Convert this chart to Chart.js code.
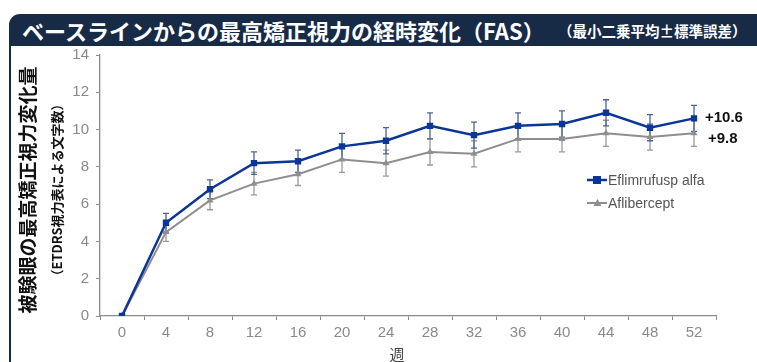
<!DOCTYPE html>
<html>
<head>
<meta charset="utf-8">
<script src="https://cdn.jsdelivr.net/npm/chart.js@4"></script>
<style>
  body { margin: 0; width: 757px; height: 362px; background: #fff; overflow: hidden; position: relative; font-family: "Noto Sans CJK JP", sans-serif; }
  #banner { position: absolute; left: 9px; top: 14px; right: 0; height: 32px; background: #172a46; border-top-left-radius: 11px; color: #fff; white-space: nowrap; }
  #banner .main { position: absolute; left: 13px; top: 0; line-height: 32px; font-size: 22px; font-weight: 700; }
  #banner .sub { position: absolute; left: 549px; top: 1px; line-height: 32px; font-size: 14.5px; font-weight: 700; }
  #edge { position: absolute; left: 9px; top: 46px; width: 2px; height: 316px; background: #172a46; }
  #wrap { position: absolute; left: 11px; top: 39px; width: 746px; height: 323px; }
</style>
</head>
<body>
<div id="banner"><span class="main">ベースラインからの最高矯正視力の経時変化（FAS）</span><span class="sub">（最小二乗平均±標準誤差）</span></div>
<div id="edge"></div>
<div id="wrap"><canvas id="chart"></canvas></div>
<script>
"use strict";

const weeks = ['0', '4', '8', '12', '16', '20', '24', '28', '32', '36', '40', '44', '48', '52'];
const eflimValues = [0, 5.0, 6.8, 8.2, 8.3, 9.1, 9.4, 10.2, 9.7, 10.2, 10.3, 10.9, 10.1, 10.6];
const eflimErrors = [0, 0.5, 0.5, 0.6, 0.6, 0.7, 0.7, 0.7, 0.7, 0.7, 0.7, 0.7, 0.7, 0.7];
const afliValues = [0, 4.5, 6.2, 7.1, 7.6, 8.4, 8.2, 8.8, 8.7, 9.5, 9.5, 9.8, 9.6, 9.8];
const afliErrors = [0, 0.5, 0.5, 0.6, 0.6, 0.7, 0.7, 0.7, 0.7, 0.7, 0.7, 0.7, 0.7, 0.7];
const endLabels = ['+10.6', '+9.8'];
const yTitle = '被験眼の最高矯正視力変化量';
const ySubTitle = '（ETDRS視力表による文字数）';
const xTitle = '週';

const BLUE = '#0b3597';
const GRAY = '#8e8e8e';
const LATIN = '"Liberation Sans", Arial, sans-serif';

const errorBars = {
  id: 'errorBars',
  beforeDatasetsDraw(chart) {
    const ctx = chart.ctx;
    const y = chart.scales.y;
    const sets = [[1, afliErrors, '#9a9a9a'], [0, eflimErrors, '#4b6493']];
    ctx.save();
    ctx.lineWidth = 1.3;
    sets.forEach(([idx, errs, color]) => {
      const meta = chart.getDatasetMeta(idx);
      const vals = chart.data.datasets[idx].data;
      ctx.strokeStyle = color;
      meta.data.forEach((pt, i) => {
        if (!errs[i]) return;
        const top = y.getPixelForValue(vals[i] + errs[i]);
        const bot = y.getPixelForValue(vals[i] - errs[i]);
        ctx.beginPath();
        ctx.moveTo(pt.x, top); ctx.lineTo(pt.x, bot);
        ctx.moveTo(pt.x - 3, top); ctx.lineTo(pt.x + 3, top);
        ctx.moveTo(pt.x - 3, bot); ctx.lineTo(pt.x + 3, bot);
        ctx.stroke();
      });
    });
    ctx.restore();
  }
};

const extras = {
  id: 'extras',
  afterDraw(chart) {
    const ctx = chart.ctx;
    const area = chart.chartArea;
    ctx.save();

    // y axis titles (rotated)
    const midY = 151;
    ctx.fillStyle = '#111';
    ctx.textAlign = 'center';
    ctx.textBaseline = 'middle';
    ctx.save();
    ctx.translate(17, midY);
    ctx.rotate(-Math.PI / 2);
    ctx.font = '700 19px "Noto Sans CJK JP"';
    ctx.fillText(yTitle, 0, 0);
    ctx.restore();
    ctx.save();
    ctx.translate(46, midY);
    ctx.rotate(-Math.PI / 2);
    ctx.font = '700 13px "Noto Sans CJK JP"';
    ctx.fillText(ySubTitle, 0, 0);
    ctx.restore();

    // x title
    ctx.fillStyle = '#444';
    ctx.font = '15px "Noto Sans CJK JP"';
    ctx.fillText(xTitle, (area.left + area.right) / 2 - 11, 315);

    // end labels
    const b = chart.getDatasetMeta(0).data.at(-1);
    const g = chart.getDatasetMeta(1).data.at(-1);
    ctx.fillStyle = '#111';
    ctx.textAlign = 'left';
    ctx.font = '700 15px ' + LATIN;
    ctx.fillText(endLabels[0], b.x + 11, b.y - 1);
    ctx.fillText(endLabels[1], g.x + 14, g.y + 6);

    // legend
    const rows = [[chart.data.datasets[0], 141], [chart.data.datasets[1], 164]];
    ctx.font = '14px ' + LATIN;
    rows.forEach(([ds, ry]) => {
      ctx.strokeStyle = ds.borderColor;
      ctx.lineWidth = ds.borderWidth;
      ctx.beginPath();
      ctx.moveTo(576, ry); ctx.lineTo(596, ry);
      ctx.stroke();
      ctx.fillStyle = ds.pointBackgroundColor;
      if (ds.pointStyle === 'rect') {
        ctx.fillRect(582, ry - 4, 8, 8);
      } else {
        ctx.beginPath();
        ctx.moveTo(586.5, ry - 4); ctx.lineTo(590.5, ry + 3); ctx.lineTo(582.5, ry + 3);
        ctx.closePath(); ctx.fill();
      }
      ctx.fillStyle = '#555';
      ctx.fillText(ds.label, 597, ry + 1);
    });
    ctx.restore();
  }
};

new Chart(document.getElementById('chart'), {
  type: 'line',
  data: {
    labels: weeks,
    datasets: [{
      label: 'Eflimrufusp alfa',
      data: eflimValues,
      borderColor: BLUE,
      backgroundColor: BLUE,
      pointBackgroundColor: BLUE,
      pointBorderColor: BLUE,
      borderWidth: 2.5,
      pointStyle: 'rect',
      pointRadius: 4.5,
      pointBorderWidth: 0,
      tension: 0
    }, {
      label: 'Aflibercept',
      data: afliValues,
      borderColor: GRAY,
      backgroundColor: GRAY,
      pointBackgroundColor: GRAY,
      pointBorderColor: GRAY,
      borderWidth: 2,
      pointStyle: 'triangle',
      pointRadius: 4,
      pointBorderWidth: 0,
      tension: 0
    }]
  },
  options: {
    responsive: true,
    maintainAspectRatio: false,
    animation: false,
    layout: { padding: { top: 0, right: 41, left: 0, bottom: 0 } },
    plugins: { legend: { display: false }, tooltip: { enabled: false } },
    scales: {
      x: {
        type: 'category',
        offset: true,
        grid: { offset: true, drawOnChartArea: false, tickLength: 4, color: '#8a8a8a' },
        border: { color: '#8a8a8a', width: 1.3 },
        ticks: { color: '#8a8a8a', font: { family: LATIN, size: 15 }, padding: 4, maxRotation: 0, autoSkip: false },
        afterFit(scale) { scale.height = 46; }
      },
      y: {
        min: 0,
        max: 14,
        ticks: { stepSize: 2, color: '#8a8a8a', font: { family: LATIN, size: 15 }, padding: 7 },
        grid: { drawOnChartArea: false, tickLength: 4, color: '#8a8a8a' },
        border: { color: '#8a8a8a', width: 1.3 },
        afterFit(scale) { scale.width = 89; }
      }
    }
  },
  plugins: [errorBars, extras]
});
</script>
</body>
</html>
